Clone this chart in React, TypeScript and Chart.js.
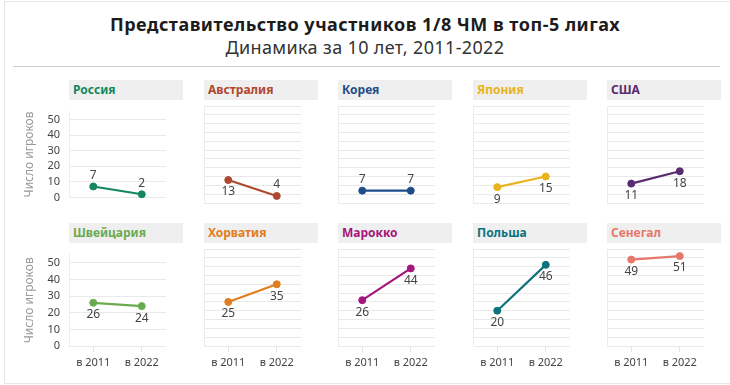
import React, { useEffect, useRef } from 'react';
import { Chart, registerables } from 'chart.js';

Chart.register(...registerables);

const countries = ['Россия', 'Австралия', 'Корея', 'Япония', 'США', 'Швейцария', 'Хорватия', 'Марокко', 'Польша', 'Сенегал'];
const years = ['в 2011', 'в 2022'];
const values2011 = [7, 13, 7, 9, 11, 26, 25, 26, 20, 49];
const values2022 = [2, 4, 7, 15, 18, 24, 35, 44, 46, 51];
const colors = ['#14875e', '#b0472f', '#1f4d8a', '#e9b41d', '#5a2b6e', '#6aab4f', '#e07d1e', '#a5167c', '#0e737c', '#e6786a'];
const yMax = 55;
const yStep = 5;
const yLabelEvery = 10;
const titleText = 'Представительство участников 1/8 ЧМ в топ-5 лигах';
const subtitleText = 'Динамика за 10 лет, 2011-2022';
const yAxisTitle = 'Число игроков';

const FONT = '"Noto Sans", sans-serif';
const COL_X0 = 69;
const COL_STEP = 134.6;
const HEADER_TOP = [80, 223];
const PLOT_TOP = [106, 249];
const AXIS_W = 62;
const PLOT_W = 97;
const PLOT_H = 97;
const PAD_TOP = 10;
const PAD_RIGHT = 6;

const pointLabelPlugin = {
  id: 'pointLabels',
  afterDatasetsDraw(chart: any) {
    const ctx = chart.ctx;
    const meta = chart.getDatasetMeta(0);
    const data = chart.data.datasets[0].data as number[];
    ctx.save();
    ctx.font = '12px ' + FONT;
    ctx.fillStyle = '#444';
    ctx.textAlign = 'center';
    ctx.textBaseline = 'middle';
    meta.data.forEach((pt: any, i: number) => {
      const v = data[i];
      const above = v <= 7;
      ctx.fillText(String(v), pt.x, above ? pt.y - 11 : pt.y + 12);
    });
    ctx.restore();
  },
};

function Panel({ index }: { index: number }) {
  const ref = useRef<HTMLCanvasElement | null>(null);
  const row = Math.floor(index / 5);
  const col = index % 5;
  const colX = Math.round(COL_X0 + col * COL_STEP);
  const bottomRow = row === 1;
  const firstCol = col === 0;
  const xAxisH = bottomRow ? 30 : 0;
  const padBottom = bottomRow ? 0 : 10;
  const width = AXIS_W + PLOT_W + PAD_RIGHT;
  const height = PAD_TOP + PLOT_H + xAxisH + padBottom;

  useEffect(() => {
    if (!ref.current) return;
    const color = colors[index];
    const chart = new Chart(ref.current, {
      type: 'line',
      data: {
        labels: years,
        datasets: [
          {
            data: [values2011[index], values2022[index]],
            borderColor: color,
            backgroundColor: color,
            pointBackgroundColor: color,
            pointBorderColor: color,
            borderWidth: 2.2,
            pointRadius: 3.5,
            pointBorderWidth: 1,
            tension: 0,
            clip: false,
          },
        ],
      },
      options: {
        responsive: false,
        animation: false,
        events: [],
        layout: { autoPadding: false, padding: { top: PAD_TOP, right: PAD_RIGHT, bottom: padBottom, left: 0 } },
        plugins: { legend: { display: false }, tooltip: { enabled: false }, title: { display: false } },
        scales: {
          x: {
            type: 'category',
            offset: true,
            display: bottomRow,
            afterFit: (s: any) => {
              s.height = xAxisH;
            },
            grid: {
              drawOnChartArea: false,
              drawTicks: true,
              tickLength: 6,
              color: '#e4e4e4',
            },
            border: { display: false },
            ticks: {
              color: '#444',
              font: { family: FONT, size: 11 },
              padding: 4,
              maxRotation: 0,
            },
          },
          y: {
            min: 0,
            max: yMax,
            afterFit: (s: any) => {
              s.width = AXIS_W;
            },
            grid: { color: '#e9e9e9', lineWidth: 1, drawTicks: false },
            border: { display: true, color: '#ececec' },
            ticks: {
              stepSize: yStep,
              display: firstCol,
              padding: 9,
              color: '#444',
              font: { family: FONT, size: 11 },
              callback: (v: any) => (Number(v) % yLabelEvery === 0 ? String(v) : ''),
            },
            title: {
              display: firstCol,
              text: yAxisTitle,
              color: '#999',
              font: { family: FONT, size: 12 },
              padding: { top: 15, bottom: 0 },
            },
          },
        },
      },
      plugins: [pointLabelPlugin],
    });
    return () => chart.destroy();
  }, [index]);

  return (
    <>
      <div
        style={{
          position: 'absolute',
          left: colX,
          top: HEADER_TOP[row],
          width: 114,
          height: 20,
          background: '#efefef',
          color: colors[index],
          font: 'bold 12px ' + FONT,
          lineHeight: '20px',
          paddingLeft: 4,
          boxSizing: 'border-box',
        }}
      >
        {countries[index]}
      </div>
      <canvas
        ref={ref}
        width={width}
        height={height}
        style={{
          position: 'absolute',
          left: colX - AXIS_W,
          top: PLOT_TOP[row] - PAD_TOP,
          width,
          height,
        }}
      />
    </>
  );
}

export default function App() {
  return (
    <div
      style={{
        position: 'fixed',
        left: 0,
        top: 0,
        width: 730,
        height: 385,
        background: '#fff',
        overflow: 'hidden',
        fontFamily: FONT,
      }}
    >
      <div
        style={{
          position: 'absolute',
          left: 4,
          top: 1,
          width: 760,
          height: 381,
          border: '1px solid #e6e6e6',
        }}
      />
      <div
        style={{
          position: 'absolute',
          left: 0,
          top: 13,
          width: 730,
          textAlign: 'center',
          font: 'bold 18px ' + FONT,
          letterSpacing: '0.5px',
          lineHeight: '22px',
          color: '#1c1c1c',
        }}
      >
        {titleText}
      </div>
      <div
        style={{
          position: 'absolute',
          left: 0,
          top: 36,
          width: 730,
          textAlign: 'center',
          font: '18px ' + FONT,
          letterSpacing: '0.35px',
          lineHeight: '22px',
          color: '#333',
        }}
      >
        {subtitleText}
      </div>
      <div style={{ position: 'absolute', left: 13, top: 66, width: 707, height: 1, background: '#cfcfcf' }} />
      {countries.map((_, i) => (
        <Panel key={i} index={i} />
      ))}
    </div>
  );
}
